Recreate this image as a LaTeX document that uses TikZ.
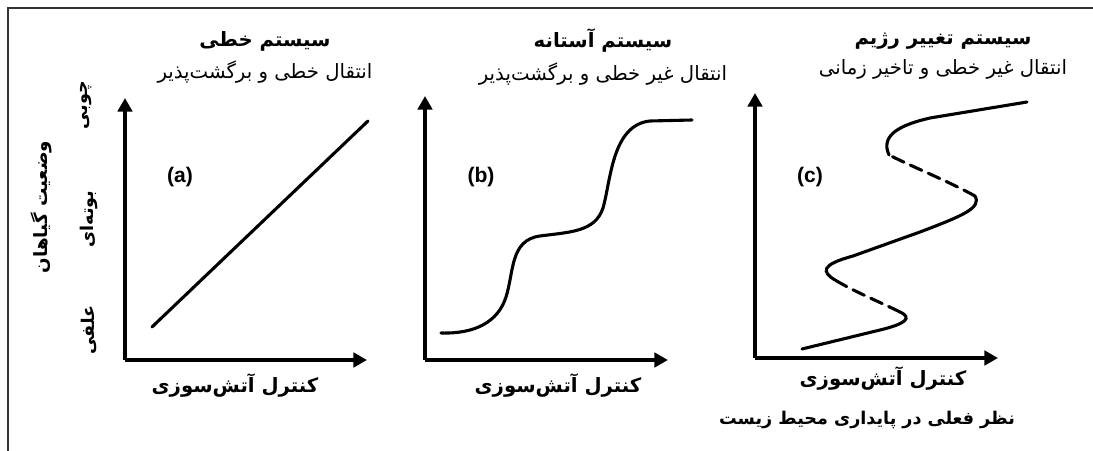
\documentclass[tikz,border=0pt]{standalone}
\usepackage{fontspec}
\setmainfont{Liberation Sans}
\newfontfamily\fa[Script=Arabic]{DejaVu Sans}
\TeXXeTstate=1
\usetikzlibrary{arrows.meta,positioning}

\begin{document}
\begin{tikzpicture}[x=0.025cm,y=-0.025cm,
    ttl/.style={font=\fa\bfseries\fontsize{14}{16}\selectfont, inner sep=1pt},
    sub/.style={font=\fa\fontsize{14}{16}\selectfont, inner sep=1pt},
    xlab/.style={font=\fa\bfseries\fontsize{14}{16}\selectfont, inner sep=1pt},
    ylab/.style={font=\fa\bfseries\fontsize{12.5}{14}\selectfont, rotate=90, inner sep=1pt},
    tag/.style={font=\bfseries\fontsize{15}{18}\selectfont},
    axis/.style={line width=2.8pt, -{Triangle[length=3.4mm,width=3.6mm]}},
    curve/.style={line width=2.2pt, line cap=round},
    gap/.style={curve, dash pattern=on 9pt off 5pt}
  ]
  \useasboundingbox (0,0) rectangle (1093,451);
  \draw[line width=0.8pt, black!80] (1093,8) -- (8,8) -- (8,451);

  % y labels
  \node[ylab, font=\fa\bfseries\fontsize{13}{15}\selectfont] (state) at (41,207) {\beginR وضعیت گیاهان\endR};
  \node[ylab] (woody) at (86,105) {\beginR چوبی\endR};
  \node[ylab] (shrub) at (89,219) {\beginR بوته‌ای\endR};
  \node[ylab] (herb) at (89,330) {\beginR علفی\endR};

  % (a)
  \coordinate (oa) at (125,360);
  \coordinate (ya) at (125,98);
  \coordinate (xa) at (367,360);
  \draw[axis] (oa) -- (ya);
  \draw[axis] (oa) -- (xa);
  \coordinate (la) at (152,327);
  \coordinate (ra) at (368,121);
  \draw[curve] (la) -- (ra);
  \node[tag] (taga) at (180,177) {(a)};
  \node[ttl] (ttla) at (265,41) {\beginR سیستم خطی\endR};
  \node[sub, below=5pt of ttla] (suba) {\beginR انتقال خطی و برگشت‌پذیر\endR};
  \node[xlab] (xlaba) at (235,386) {\beginR کنترل آتش‌سوزی\endR};

  % (b)
  \coordinate (ob) at (425,360);
  \coordinate (yb) at (425,96);
  \coordinate (xb) at (668,360);
  \draw[axis] (ob) -- (yb);
  \draw[axis] (ob) -- (xb);
  \draw[curve] (441,333) .. controls (475,334) and (498,322) .. (506,297)
    .. controls (514,272) and (510,240) .. (540,236)
    .. controls (570,232) and (595,232) .. (603,208)
    .. controls (611,180) and (612,125) .. (650,121) -- (692,120);
  \node[tag] (tagb) at (481,177) {(b)};
  \node[ttl] (ttlb) at (603,41) {\beginR سیستم آستانه\endR};
  \node[sub, below=5pt of ttlb] (subb) {\beginR انتقال غیر خطی و برگشت‌پذیر\endR};
  \node[xlab] (xlabb) at (558,386) {\beginR کنترل آتش‌سوزی\endR};

  % (c)
  \coordinate (oc) at (755,358);
  \coordinate (yc) at (755,93);
  \coordinate (xc) at (998,358);
  \draw[axis] (oc) -- (yc);
  \draw[axis] (oc) -- (xc);
  \draw[curve] (802,349) -- (880,330) .. controls (905,324) and (913,318) .. (900,312);
  \draw[gap] (900,312) .. controls (880,302) and (855,292) .. (835,280);
  \draw[curve] (835,280) .. controls (822,272) and (820,265) .. (853,256)
    -- (920,232) .. controls (962,216) and (982,208) .. (975,196);
  \draw[gap] (975,196) .. controls (950,182) and (915,168) .. (889,155);
  \draw[curve] (889,155) .. controls (880,135) and (900,125) .. (930,118) -- (1027,102);
  \node[tag] (tagc) at (810,177) {(c)};
  \node[ttl] (ttlc) at (943,41) {\beginR سیستم تغییر رژیم\endR};
  \node[sub, below=5pt of ttlc] (subc) {\beginR انتقال غیر خطی و تاخیر زمانی\endR};
  \node[xlab] (xlabc) at (883,379) {\beginR کنترل آتش‌سوزی\endR};
  \node[sub, font=\fa\bfseries\fontsize{12.5}{14}\selectfont] (view) at (867,420) {\beginR نظر فعلی در پایداری محیط زیست\endR};
\end{tikzpicture}
\end{document}
